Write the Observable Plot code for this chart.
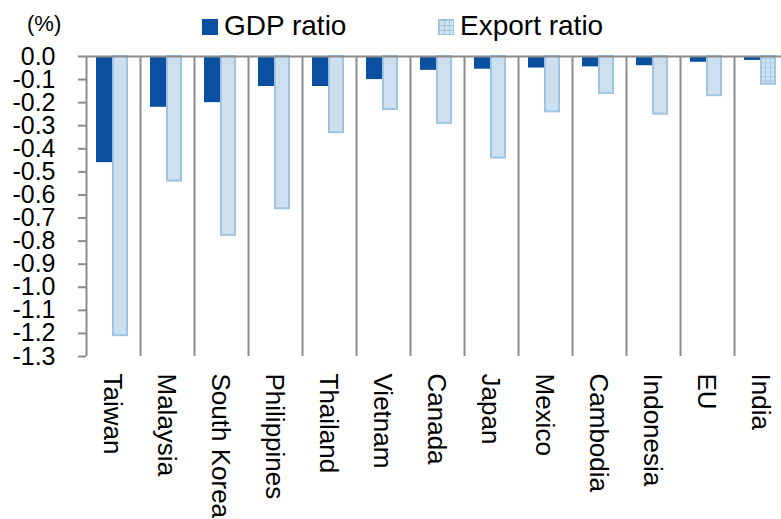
<!DOCTYPE html>
<html>
<head>
<meta charset="utf-8">
<script src="https://cdn.jsdelivr.net/npm/d3@7"></script>
<script src="https://cdn.jsdelivr.net/npm/@observablehq/plot@0.6"></script>
<style>
  html, body { margin: 0; padding: 0; background: #fff; overflow: hidden; }
  body { font-family: "Liberation Sans", Arial, sans-serif; width: 781px; height: 519px; }
  #header { position: relative; height: 40px; }
  #header .unit { position: absolute; left: 27px; top: 13px; font-size: 22px; line-height: 22px; }
  #header .sw { position: absolute; width: 16px; height: 16px; box-sizing: border-box; }
  #header .lab { position: absolute; top: 12px; font-size: 28px; line-height: 28px; white-space: nowrap; }
  #header .gdp { background: #0b50a0; left: 202px; top: 19px; }
  #header .exp {
    left: 438px; top: 19px;
    background-color: #d2e3f0;
    background-image: linear-gradient(#a3c7e3 1px, transparent 1px), linear-gradient(90deg, #a3c7e3 1px, transparent 1px);
    background-size: 5px 5px;
    border: 1px solid #9dc3e1;
  }
  #chart { width: 800px; }
  #chart svg { display: block; max-width: none !important; width: 800px !important; height: 479px !important; }
</style>
</head>
<body>
<div id="header">
  <span class="unit">(%)</span>
  <span class="sw gdp"></span><span class="lab" style="left:224px">GDP ratio</span>
  <span class="sw exp"></span><span class="lab" style="left:460px">Export ratio</span>
</div>
<div id="chart"></div>
<script>
// Estimated impact by economy, in percent
const countries = ["Taiwan", "Malaysia", "South Korea", "Philippines", "Thailand", "Vietnam",
  "Canada", "Japan", "Mexico", "Cambodia", "Indonesia", "EU", "India"];
const gdpRatio = [-0.46, -0.22, -0.20, -0.13, -0.13, -0.10, -0.06, -0.055, -0.05, -0.045, -0.04, -0.025, -0.017];
const exportRatio = [-1.21, -0.54, -0.775, -0.66, -0.33, -0.23, -0.29, -0.44, -0.24, -0.16, -0.25, -0.17, -0.12];
const yTicks = [0, -0.1, -0.2, -0.3, -0.4, -0.5, -0.6, -0.7, -0.8, -0.9, -1.0, -1.1, -1.2, -1.3];

const rows = countries.map((country, i) => ({country, gdp: gdpRatio[i], exp: exportRatio[i]}));

const gray = "#8c8c8c";
const band = 54;

const chart = Plot.plot({
  width: 800,
  height: 479,
  marginTop: 16,
  marginBottom: 163,
  marginLeft: 86,
  marginRight: 12,
  style: {fontFamily: "'Liberation Sans', Arial, sans-serif", background: "white", overflow: "visible"},
  x: {type: "band", domain: countries, range: [86, 86 + band * countries.length], padding: 0, axis: null},
  y: {domain: [-1.3, 0], axis: null, label: null},
  marks: [
    // category separators (the first one doubles as the y axis line)
    Plot.ruleX(countries, {x: d => d, y1: 0, y2: -1.3, dx: -band / 2, stroke: gray, strokeWidth: 2}),
    Plot.axisY({ticks: yTicks, tickSize: 8, tickPadding: 23, tickFormat: d => d.toFixed(1),
      fontSize: 25, stroke: gray, strokeWidth: 2, fill: "#000", label: null}),
    // GDP ratio bars
    Plot.barY(rows, {x: "country", y1: 0, y2: "gdp", fill: "#0b50a0", insetLeft: 10, insetRight: 28}),
    // Export ratio bars
    Plot.barY(rows, {x: "country", y1: 0, y2: "exp", filter: d => d.country !== "India",
      fill: "url(#dots)", stroke: "#9fc5e2", strokeWidth: 2, insetLeft: 27, insetRight: 13}),
    Plot.barY(rows, {x: "country", y1: 0, y2: "exp", filter: d => d.country === "India",
      fill: "url(#grid)", stroke: "#9fc5e2", strokeWidth: 2, insetLeft: 27, insetRight: 13}),
    Plot.ruleY([0], {stroke: gray, strokeWidth: 2}),
    // rotated category labels
    Plot.text(countries, {x: d => d, text: d => d, frameAnchor: "bottom", dy: 17, dx: -1,
      rotate: 90, textAnchor: "start", lineAnchor: "middle", fontSize: 26, fill: "#000"})
  ]
});

// fill patterns for the export bars
const ns = "http://www.w3.org/2000/svg";
const defs = document.createElementNS(ns, "defs");
defs.innerHTML = `
  <pattern id="dots" width="4" height="4" patternUnits="userSpaceOnUse">
    <rect width="4" height="4" fill="#cbdeed"></rect>
    <rect x="0" y="0" width="1" height="1" fill="#dde9f4"></rect>
    <rect x="2" y="2" width="1" height="1" fill="#dde9f4"></rect>
  </pattern>
  <pattern id="grid" width="5" height="4.5" patternUnits="userSpaceOnUse">
    <rect width="5" height="4.5" fill="#d2e3f0"></rect>
    <rect x="0" y="0" width="5" height="1" fill="#a6c9e4"></rect>
    <rect x="0" y="0" width="1" height="4.5" fill="#a6c9e4"></rect>
  </pattern>`;
chart.insertBefore(defs, chart.firstChild);

document.getElementById("chart").appendChild(chart);
</script>
</body>
</html>
